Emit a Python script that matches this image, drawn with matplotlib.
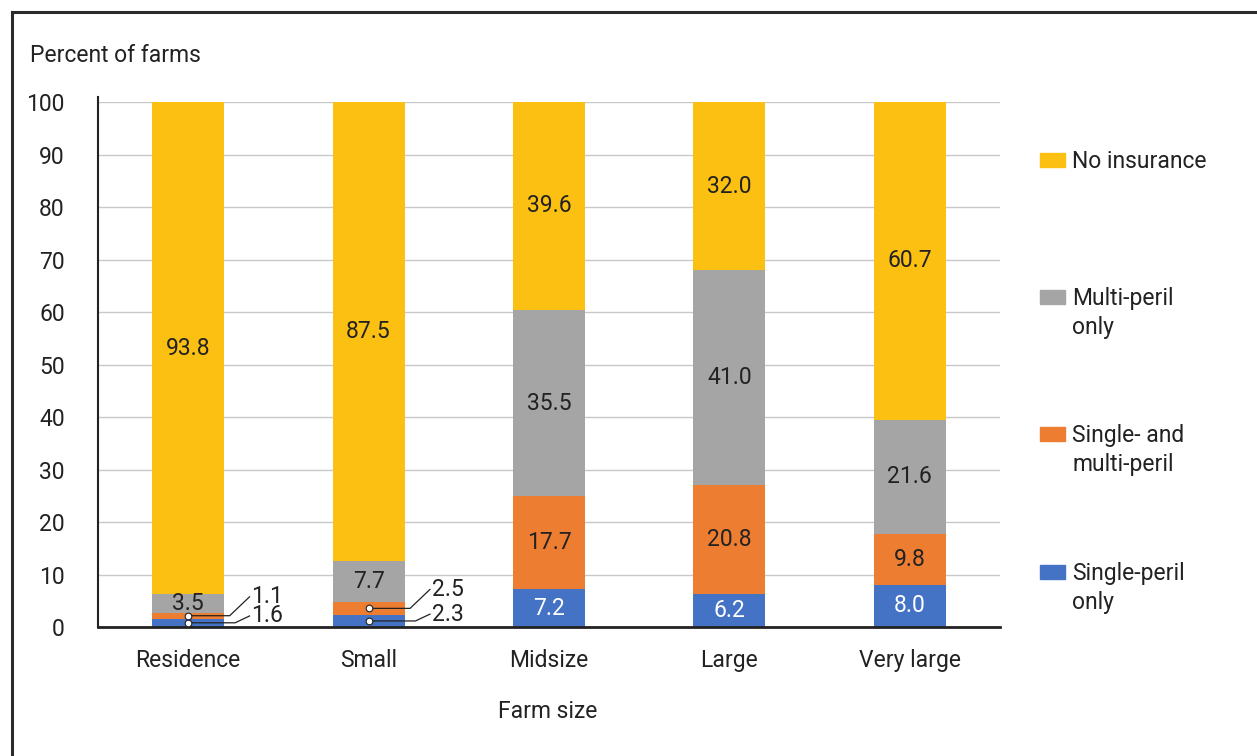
import matplotlib
matplotlib.use("Agg")
import matplotlib.pyplot as plt
from matplotlib.patches import Rectangle
from matplotlib.lines import Line2D

plt.rcParams['font.family'] = ['Roboto', 'DejaVu Sans']

categories = ["Residence", "Small", "Midsize", "Large", "Very large"]
single_peril = [1.6, 2.3, 7.2, 6.2, 8.0]
single_and_multi = [1.1, 2.5, 17.7, 20.8, 9.8]
multi_peril = [3.5, 7.7, 35.5, 41.0, 21.6]
no_insurance = [93.8, 87.5, 39.6, 32.0, 60.7]

series = [
    ("Single-peril\nonly", single_peril, "#4472C4", "white"),
    ("Single- and\nmulti-peril", single_and_multi, "#ED7D31", "#222222"),
    ("Multi-peril\nonly", multi_peril, "#A5A5A5", "#222222"),
    ("No insurance", no_insurance, "#FCC013", "#222222"),
]

FS = 16.5
W, H = 1257, 756
fig = plt.figure(figsize=(W / 100, H / 100), dpi=100)
ax = fig.add_axes([98 / W, 1 - 627 / H, (1000 - 98) / W, (627 - 102) / H])

x = list(range(len(categories)))
bar_w = 0.4
bottoms = [0.0] * len(categories)
callouts = []  # (bar index, segment mid-height, value) for segments too thin to label
for name, vals, color, tcol in series:
    ax.bar(x, vals, bar_w, bottom=bottoms, color=color, zorder=2)
    for i, v in enumerate(vals):
        mid = bottoms[i] + v / 2
        if v < 3:
            callouts.append((i, mid, v))
        else:
            ax.text(i, mid, f"{v:.1f}", ha="center", va="center",
                    fontsize=FS, color=tcol, zorder=3)
    bottoms = [b + v for b, v in zip(bottoms, vals)]

# Leader lines for the thin segments: dot at the segment, elbow right, label
for i, mid, v in callouts:
    same = [c for c in callouts if c[0] == i]
    upper = mid == max(c[1] for c in same)
    label_y = mid + (3.6 if upper else 1.3)
    elbow_x = i + (0.23 if upper else 0.26)
    end_x = i + 0.34
    ax.plot([i, elbow_x, end_x], [mid, mid, label_y], color="#222222",
            lw=0.9, zorder=4, clip_on=False)
    ax.plot([i], [mid], marker="o", ms=4.8, mfc="white", mec="#222222",
            mew=0.8, zorder=5, clip_on=False)
    ax.text(end_x + 0.01, label_y, f"{v:.1f}", ha="left", va="center",
            fontsize=FS, color="#222222", zorder=5)

ax.set_xlim(-0.5, 4.5)
ax.set_ylim(0, 100)
ax.set_yticks(range(0, 101, 10))
ax.set_xticks(x)
ax.set_xticklabels(categories)
ax.tick_params(axis="both", length=0, labelsize=FS, colors="#222222")
ax.tick_params(axis="y", pad=24)
ax.tick_params(axis="x", pad=16)
ax.grid(axis="y", color="#C8C8C8", lw=1, zorder=0)
ax.set_axisbelow(True)
for s in ("top", "right"):
    ax.spines[s].set_visible(False)
ax.spines["left"].set_color("#222222")
ax.spines["left"].set_linewidth(1.5)
ax.spines["left"].set_bounds(0, 101)
ax.spines["bottom"].set_color("#222222")
ax.spines["bottom"].set_linewidth(2)

fig.text(30 / W, 1 - 56 / H, "Percent of farms", fontsize=FS, color="#222222",
         ha="left", va="center")
fig.text(548 / W, 1 - 712 / H, "Farm size", fontsize=FS, color="#222222",
         ha="center", va="center")

# Legend, top to bottom
legend_y = [160, 297, 434, 572]
for (name, vals, color, tcol), py in zip(reversed(series), legend_y):
    fig.patches.append(Rectangle((1040 / W, 1 - (py + 7) / H), 25 / W, 14 / H,
                                 transform=fig.transFigure, color=color))
    fig.text(1072 / W, 1 - (py - 10) / H, name, fontsize=FS, color="#222222",
             ha="left", va="top", linespacing=1.33)

# Outer frame lines
fig.add_artist(Line2D([12 / W, 1], [1 - 12 / H, 1 - 12 / H],
                      transform=fig.transFigure, color="#2a2a2a", lw=2.2))
fig.add_artist(Line2D([12 / W, 12 / W], [1 - 12 / H, 0],
                      transform=fig.transFigure, color="#2a2a2a", lw=2.2))

fig.savefig("out.png", dpi=100)
